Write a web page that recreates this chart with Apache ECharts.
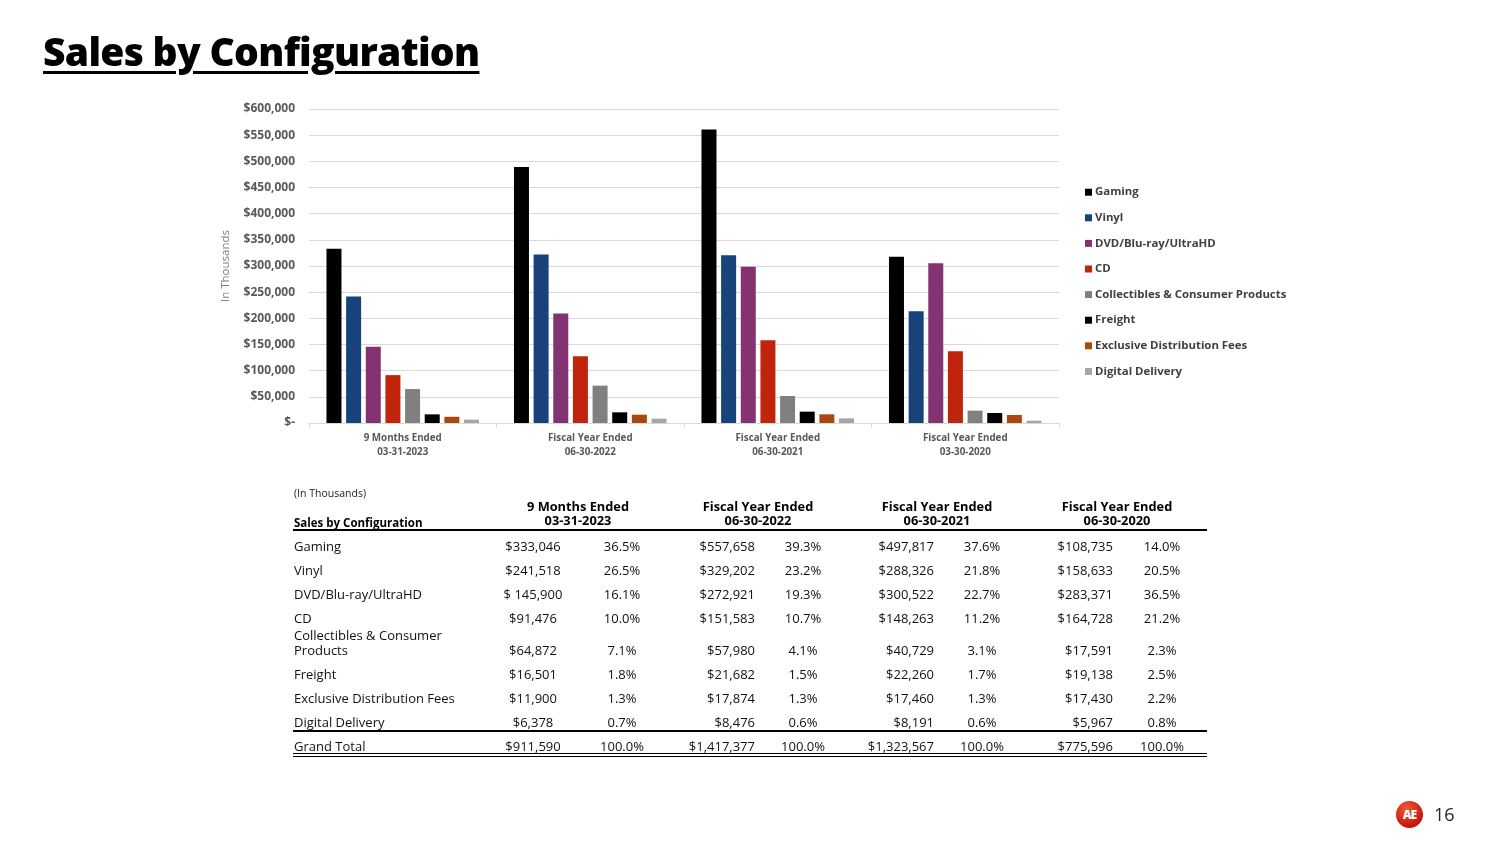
<!DOCTYPE html>
<html>
<head>
<meta charset="utf-8">
<script src="https://cdn.jsdelivr.net/npm/echarts@6/dist/echarts.min.js"></script>
<style>
  html, body { margin:0; padding:0; background:#fff; }
  #page { position:relative; width:1500px; height:844px; overflow:hidden; font-family:"Open Sans", "Noto Sans", sans-serif; color:#000; }
  #chart { position:absolute; left:0; top:0; width:1500px; height:844px; }
  .title { position:absolute; left:43px; top:26px; font-family:"Open Sans","Noto Sans",sans-serif; font-weight:800; font-size:39px; line-height:50px; letter-spacing:-0.7px; color:#000; text-decoration:underline; text-decoration-thickness:3px; text-underline-offset:5px; white-space:nowrap; }
  .cell { position:absolute; font-size:13px; line-height:16px; white-space:nowrap; color:#111; }
  .hdr { font-weight:700; font-size:12.8px; line-height:14px; text-align:center; color:#000; }
  .hline { position:absolute; left:293px; width:914px; background:#000; }
  .logo { position:absolute; left:1396px; top:801px; width:27px; height:27px; border-radius:50%; background:radial-gradient(circle at 40% 30%, #f25a3c, #c4160c 70%); color:#fff; font:900 12px "Open Sans",sans-serif; line-height:27px; text-align:center; letter-spacing:-1px; }
  .pnum { position:absolute; left:1434px; top:802px; font-size:18px; line-height:24px; color:#222; }
</style>
</head>
<body>
<div id="page">
  <div id="chart"></div>
  <div class="title">Sales by Configuration</div>
  <div id="table"></div>
  <div class="logo">AE</div>
  <div class="pnum">16</div>
</div>
<script>
// ---------- chart data ----------
const categories = ['9 Months Ended\n03-31-2023', 'Fiscal Year Ended\n06-30-2022', 'Fiscal Year Ended\n06-30-2021', 'Fiscal Year Ended\n03-30-2020'];
const seriesNames = ['Gaming', 'Vinyl', 'DVD/Blu-ray/UltraHD', 'CD', 'Collectibles & Consumer Products', 'Freight', 'Exclusive Distribution Fees', 'Digital Delivery'];
const gaming       = [333046, 489000, 561000, 317500];
const vinyl        = [241518, 322000, 320700, 213600];
const dvd          = [145900, 209000, 298400, 305400];
const cd           = [91476, 127500, 158100, 137100];
const collectibles = [64872, 71400, 51600, 23600];
const freight      = [16501, 20400, 21700, 19100];
const exclusive    = [11900, 15900, 16600, 15300];
const digital      = [6378, 8300, 8900, 4500];
const seriesColors = ['#000000', '#17427c', '#833372', '#c0240c', '#808080', '#000000', '#a9480f', '#a6a6a6'];

// ---------- table data ----------
const tableHeaders = ['9 Months Ended\n03-31-2023', 'Fiscal Year Ended\n06-30-2022', 'Fiscal Year Ended\n06-30-2021', 'Fiscal Year Ended\n06-30-2020'];
const tableRows = ['Gaming', 'Vinyl', 'DVD/Blu-ray/UltraHD', 'CD', 'Collectibles & Consumer\nProducts', 'Freight', 'Exclusive Distribution Fees', 'Digital Delivery', 'Grand Total'];
const tblCol1Val = ['$333,046', '$241,518', '$ 145,900', '$91,476', '$64,872', '$16,501', '$11,900', '$6,378', '$911,590'];
const tblCol1Pct = ['36.5%', '26.5%', '16.1%', '10.0%', '7.1%', '1.8%', '1.3%', '0.7%', '100.0%'];
const tblCol2Val = ['$557,658', '$329,202', '$272,921', '$151,583', '$57,980', '$21,682', '$17,874', '$8,476', '$1,417,377'];
const tblCol2Pct = ['39.3%', '23.2%', '19.3%', '10.7%', '4.1%', '1.5%', '1.3%', '0.6%', '100.0%'];
const tblCol3Val = ['$497,817', '$288,326', '$300,522', '$148,263', '$40,729', '$22,260', '$17,460', '$8,191', '$1,323,567'];
const tblCol3Pct = ['37.6%', '21.8%', '22.7%', '11.2%', '3.1%', '1.7%', '1.3%', '0.6%', '100.0%'];
const tblCol4Val = ['$108,735', '$158,633', '$283,371', '$164,728', '$17,591', '$19,138', '$17,430', '$5,967', '$775,596'];
const tblCol4Pct = ['14.0%', '20.5%', '36.5%', '21.2%', '2.3%', '2.5%', '2.2%', '0.8%', '100.0%'];

const seriesData = [gaming, vinyl, dvd, cd, collectibles, freight, exclusive, digital];

const chart = echarts.init(document.getElementById('chart'), null, { renderer: 'canvas' });
const labelFont = { fontFamily: '"Open Sans", "Noto Sans", sans-serif', fontWeight: 'bold', color: '#595959' };

chart.setOption({
  animation: false,
  grid: { left: 309, right: 441, top: 109, bottom: 421, containLabel: false },
  legend: {
    orient: 'vertical', left: 1080, top: 181,
    icon: 'rect', itemWidth: 7, itemHeight: 7, itemGap: 13.2,
    textStyle: Object.assign({}, labelFont, { fontSize: 11.4, color: '#404040', lineHeight: 12.4, padding: [0, 0, 0, -2] }),
    data: seriesNames.map((n, i) => ({ name: n, itemStyle: { color: seriesColors[i] } }))
  },
  xAxis: {
    type: 'category', data: categories,
    axisLine: { lineStyle: { color: '#d9d9d9', width: 1 } },
    axisTick: { show: true, alignWithLabel: false, length: 5, lineStyle: { color: '#d9d9d9' } },
    axisLabel: Object.assign({}, labelFont, { fontSize: 9.8, lineHeight: 14, margin: 8 })
  },
  yAxis: {
    type: 'value', min: 0, max: 600000, interval: 50000,
    name: 'In Thousands', nameLocation: 'middle', nameGap: 77, nameRotate: 90,
    nameTextStyle: { fontFamily: '"Open Sans", "Noto Sans", sans-serif', fontSize: 11.5, color: '#7f7f7f' },
    axisLine: { show: false }, axisTick: { show: false },
    splitLine: { lineStyle: { color: '#d9d9d9', width: 1 } },
    axisLabel: Object.assign({}, labelFont, { fontSize: 12, margin: 14,
      formatter: v => v === 0 ? '$-' : '$' + v.toLocaleString('en-US') })
  },
  series: seriesNames.map((n, i) => ({
    name: n, type: 'bar', data: seriesData[i],
    barWidth: 15, barGap: '31%',
    itemStyle: { color: seriesColors[i] }
  }))
});

// ---------- table built from arrays ----------
const table = document.getElementById('table');
function addCell(text, x, y, align, cls) {
  const d = document.createElement('div');
  d.className = 'cell' + (cls ? ' ' + cls : '');
  d.textContent = text;
  d.style.top = (y - 8) + 'px';
  if (align === 'left') { d.style.left = x + 'px'; }
  else if (align === 'right') { d.style.right = (1500 - x) + 'px'; }
  else { d.style.left = (x - 100) + 'px'; d.style.width = '200px'; d.style.textAlign = 'center'; }
  table.appendChild(d);
  return d;
}
function addLine(y, h) {
  const l = document.createElement('div');
  l.className = 'hline'; l.style.top = y + 'px'; l.style.height = h + 'px';
  table.appendChild(l);
}
let c = addCell('(In Thousands)', 294, 493, 'left'); c.style.fontSize = '10.5px'; c.style.color = '#222';
c = addCell('Sales by Configuration', 294, 523, 'left'); c.style.fontWeight = '700'; c.style.fontSize = '11.5px'; c.style.color = '#000';
const hdrCenters = [578, 758, 937, 1117];
tableHeaders.forEach((h, i) => {
  const parts = h.split('\n');
  addCell(parts[0], hdrCenters[i], 507, 'center', 'hdr');
  addCell(parts[1], hdrCenters[i], 521, 'center', 'hdr');
});
const rowY = [546, 570, 594, 618, 650, 674, 698, 722, 746];
const valCols = [
  { vals: tblCol1Val, x: 533, align: 'center' },
  { vals: tblCol1Pct, x: 622, align: 'center' },
  { vals: tblCol2Val, x: 755, align: 'right' },
  { vals: tblCol2Pct, x: 803, align: 'center' },
  { vals: tblCol3Val, x: 934, align: 'right' },
  { vals: tblCol3Pct, x: 982, align: 'center' },
  { vals: tblCol4Val, x: 1113, align: 'right' },
  { vals: tblCol4Pct, x: 1162, align: 'center' }
];
tableRows.forEach((r, ri) => {
  const parts = r.split('\n');
  if (parts.length === 2) {
    addCell(parts[0], 294, rowY[ri] - 15, 'left');
    addCell(parts[1], 294, rowY[ri], 'left');
  } else {
    addCell(r, 294, rowY[ri], 'left');
  }
  valCols.forEach(col => addCell(col.vals[ri], col.x, rowY[ri], col.align));
});
addLine(529, 2);
addLine(730, 1.5);
addLine(753, 1.2);
addLine(756, 1.2);
</script>
</body>
</html>
